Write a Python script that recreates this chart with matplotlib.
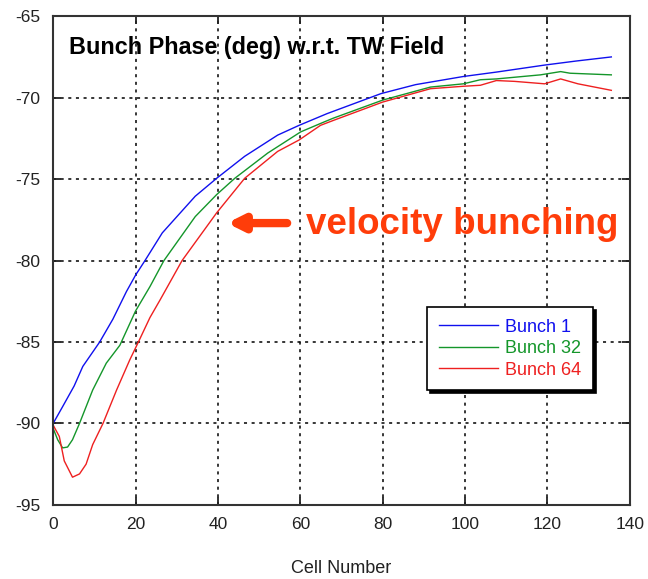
import matplotlib.pyplot as plt

plt.rcParams['font.family'] = ['Liberation Sans', 'DejaVu Sans']
plt.rcParams['axes.unicode_minus'] = False

# phase of each bunch along the structure
cell_b1 = [0, 2.3, 5.1, 7.2, 11.3, 14.5, 17.8, 20, 22.3, 26.5, 34.5, 39.7, 46.5, 54.5, 59.7, 66.5, 79.6, 88,
           99.6, 107.6, 119.3, 127, 135.5]
phase_b1 = [-90, -88.97, -87.7, -86.5, -85.0, -83.6, -81.9, -80.9, -80.0, -78.3, -76.05, -74.95, -73.6, -72.3,
            -71.7, -70.98, -69.75, -69.2, -68.7, -68.43, -68.0, -67.75, -67.5]

cell_b32 = [0, 1.1, 2.3, 3.5, 4.7, 6.4, 9.6, 12.9, 16.2, 20, 23.5, 26.9, 34.5, 39.7, 44.1, 52.1, 60.1, 65.7, 68,
            80, 91.6, 99.6, 103.7, 107.6, 118.3, 123.2, 125.5, 135.5]
phase_b32 = [-90.3, -91.0, -91.5, -91.45, -91.0, -90.0, -87.95, -86.3, -85.2, -83.1, -81.6, -80.0, -77.3, -75.95,
             -74.95, -73.4, -72.1, -71.5, -71.26, -70.15, -69.35, -69.15, -68.9, -68.85, -68.6, -68.4, -68.5, -68.6]

cell_b64 = [0, 1.5, 2.7, 4.7, 6.4, 8.0, 9.6, 12.1, 15.4, 18.6, 20.7, 23.5, 26, 31.3, 39.7, 46.5, 54.5, 59.7,
            64.9, 68, 80, 91.6, 99.6, 103.7, 107.6, 112, 119.3, 123.2, 127.4, 135.5]
phase_b64 = [-90.1, -90.8, -92.3, -93.3, -93.1, -92.5, -91.3, -90.0, -87.95, -86.1, -85.0, -83.5, -82.4, -80.0,
             -77.07, -74.95, -73.3, -72.6, -71.7, -71.4, -70.27, -69.45, -69.3, -69.24, -68.95, -69.0, -69.15,
             -68.85, -69.15, -69.55]

fig = plt.figure(figsize=(6.48, 5.79), dpi=100)
ax = fig.add_axes([0.082, 0.128, 0.890, 0.844])

ax.plot(cell_b1, phase_b1, color='#1010ee', lw=1.0, label='Bunch 1')
ax.plot(cell_b32, phase_b32, color='#14962a', lw=1.0, label='Bunch 32')
ax.plot(cell_b64, phase_b64, color='#ee2020', lw=1.0, label='Bunch 64')

ax.set_xlim(0, 140)
ax.set_ylim(-95, -65)
ax.set_xticks(range(0, 141, 20))
ax.set_yticks(range(-95, -64, 5))
ax.grid(True, color='black', linestyle=(0, (2, 3)), linewidth=1.1)
ax.tick_params(direction='in', length=6, width=1.3, top=True, right=True,
               labelsize=12.5, pad=9, colors='#222222')
for s in ax.spines.values():
    s.set_linewidth(1.5)
    s.set_color('#333333')

ax.set_xlabel('Cell Number', fontsize=13, color='#222222', labelpad=20)

ax.text(0.027, 0.935, 'Bunch Phase (deg) w.r.t. TW Field', transform=ax.transAxes,
        fontsize=16.8, fontweight='bold', va='center', ha='left')

ax.annotate('', xy=(42.2, -77.7), xytext=(56.8, -77.7),
            arrowprops=dict(arrowstyle='-|>,head_length=0.9,head_width=0.45',
                            color='#ff3d0a', lw=6, shrinkA=0, shrinkB=0))
ax.text(61.3, -78.4, 'velocity bunching', fontsize=26.5, fontweight='bold',
        color='#ff3d0a', va='baseline', ha='left')

leg = ax.legend(loc='upper left', bbox_to_anchor=(0.648, 0.405), borderaxespad=0,
                fontsize=13, fancybox=False, frameon=True, edgecolor='black',
                handlelength=3.3, handletextpad=0.4, labelcolor='linecolor',
                borderpad=0.65, labelspacing=0.25,
                shadow={'color': 'black', 'alpha': 1})
leg.get_frame().set_linewidth(1.2)

fig.savefig('out.png', dpi=100)
